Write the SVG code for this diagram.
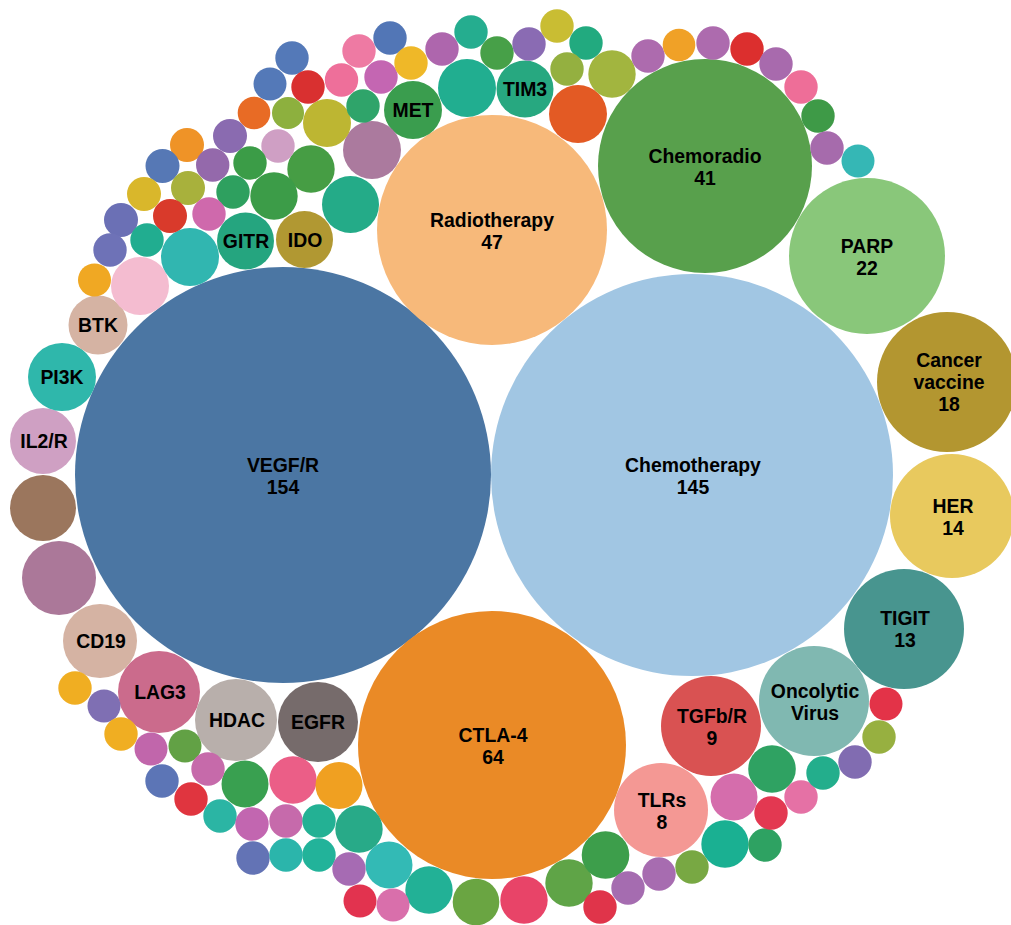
<svg xmlns="http://www.w3.org/2000/svg" width="1011" height="925" viewBox="0 0 1011 925">
<style>
.l{font-family:"Liberation Sans",Arial,sans-serif;font-weight:bold;font-size:19.4px;fill:#000;text-anchor:middle}
</style>
<rect width="1011" height="925" fill="#fff"/>
<g id="vegf"><circle cx="283" cy="475" r="208" fill="#4b76a3"/><text class="l" x="283" y="472">VEGF/R</text><text class="l" x="283" y="494">154</text></g>
<g id="chemotherapy"><circle cx="692" cy="475" r="201" fill="#a1c6e3"/><text class="l" x="693" y="472">Chemotherapy</text><text class="l" x="693" y="494">145</text></g>
<g id="radiotherapy"><circle cx="492" cy="230" r="115" fill="#f7b97a"/><text class="l" x="492" y="227">Radiotherapy</text><text class="l" x="492" y="249">47</text></g>
<g id="chemoradio"><circle cx="705" cy="166" r="107" fill="#58a04c"/><text class="l" x="705" y="163">Chemoradio</text><text class="l" x="705" y="185">41</text></g>
<g id="parp"><circle cx="867" cy="256" r="78" fill="#89c77a"/><text class="l" x="867" y="253">PARP</text><text class="l" x="867" y="275">22</text></g>
<g id="vaccine"><circle cx="947" cy="382" r="70" fill="#b39630"/><text class="l" x="949" y="367">Cancer</text><text class="l" x="949" y="389">vaccine</text><text class="l" x="949" y="411">18</text></g>
<g id="her"><circle cx="952" cy="516" r="62" fill="#e8c95e"/><text class="l" x="953" y="513">HER</text><text class="l" x="953" y="535">14</text></g>
<g id="tigit"><circle cx="904" cy="629" r="60" fill="#48958f"/><text class="l" x="905" y="625">TIGIT</text><text class="l" x="905" y="647">13</text></g>
<g id="oncolytic"><circle cx="814" cy="701" r="55" fill="#80b8b1"/><text class="l" x="815" y="698">Oncolytic</text><text class="l" x="815" y="720">Virus</text></g>
<g id="tgfb"><circle cx="711" cy="726" r="50" fill="#d95252"/><text class="l" x="712" y="723">TGFb/R</text><text class="l" x="712" y="745">9</text></g>
<g id="tlrs"><circle cx="661" cy="810" r="47" fill="#f49894"/><text class="l" x="662" y="807">TLRs</text><text class="l" x="662" y="829">8</text></g>
<g id="ctla4"><circle cx="492" cy="745" r="134" fill="#ea8a26"/><text class="l" x="493" y="742">CTLA-4</text><text class="l" x="493" y="764">64</text></g>
<g id="egfr"><circle cx="318" cy="722" r="40" fill="#766b6b"/><text class="l" x="318" y="729">EGFR</text></g>
<g id="hdac"><circle cx="236" cy="720" r="41" fill="#b8afab"/><text class="l" x="237" y="727">HDAC</text></g>
<g id="lag3"><circle cx="159" cy="692" r="41" fill="#cb6b8c"/><text class="l" x="160" y="699">LAG3</text></g>
<g id="cd19"><circle cx="100" cy="641" r="37" fill="#d5b3a3"/><text class="l" x="101" y="648">CD19</text></g>
<g id="mauve1"><circle cx="59" cy="578" r="37" fill="#ab7899"/></g>
<g id="brown1"><circle cx="43" cy="508" r="33" fill="#9b765d"/></g>
<g id="il2r"><circle cx="43" cy="441" r="33" fill="#cfa0c3"/><text class="l" x="44" y="448">IL2/R</text></g>
<g id="pi3k"><circle cx="62" cy="377" r="34" fill="#2fb7ab"/><text class="l" x="62" y="384">PI3K</text></g>
<g id="btk"><circle cx="98" cy="325" r="29.5" fill="#d5b3a3"/><text class="l" x="98" y="332">BTK</text></g>
<g id="pink1"><circle cx="140" cy="286" r="29" fill="#f4bcd0"/></g>
<g id="gitr"><circle cx="245.5" cy="241" r="28.5" fill="#25a57f"/><text class="l" x="246" y="248">GITR</text></g>
<g id="ido"><circle cx="304.5" cy="239.5" r="28.5" fill="#b19832"/><text class="l" x="305" y="247">IDO</text></g>
<g id="met"><circle cx="413" cy="110" r="29" fill="#3a9d4e"/><text class="l" x="413" y="117">MET</text></g>
<g id="tim3"><circle cx="525" cy="89" r="28.5" fill="#27a880"/><text class="l" x="525" y="96">TIM3</text></g>
<g id="b-med">
<circle cx="190" cy="257" r="29" fill="#31b6b0"/>
<circle cx="350.5" cy="204.5" r="28.5" fill="#24ab88"/>
<circle cx="467" cy="88" r="29" fill="#21ae90"/>
<circle cx="578" cy="114" r="29" fill="#e35a24"/>
<circle cx="372" cy="150" r="29" fill="#ab7a9e"/>
<circle cx="327" cy="123" r="24" fill="#bdb632"/>
<circle cx="311" cy="169" r="23.7" fill="#469d44"/>
<circle cx="274" cy="196" r="23.7" fill="#3c9c48"/>
<circle cx="612" cy="74" r="23.7" fill="#a2b53f"/>
<circle cx="245" cy="784" r="23.5" fill="#39a050"/>
<circle cx="293" cy="780" r="23.7" fill="#eb5e87"/>
<circle cx="339" cy="785.5" r="23.5" fill="#f0a021"/>
<circle cx="359" cy="829" r="23.7" fill="#28aa88"/>
<circle cx="389" cy="865" r="23.5" fill="#33bab5"/>
<circle cx="429" cy="890" r="23.7" fill="#22b196"/>
<circle cx="476" cy="902" r="23.3" fill="#6aa542"/>
<circle cx="524" cy="900" r="23.7" fill="#e84468"/>
<circle cx="569" cy="883" r="23.7" fill="#5fa447"/>
<circle cx="605.5" cy="855" r="23.8" fill="#3d9e4b"/>
<circle cx="725" cy="844" r="23.7" fill="#1ab092"/>
<circle cx="734" cy="797" r="23.5" fill="#d56dac"/>
<circle cx="772" cy="769" r="23.8" fill="#2fa262"/>
</g>
<g id="b-small">
<circle cx="292" cy="58" r="16.7" fill="#5479b8"/>
<circle cx="270" cy="84" r="16.5" fill="#5479b8"/>
<circle cx="308" cy="87" r="16.7" fill="#d93030"/>
<circle cx="341.5" cy="80" r="16.7" fill="#ee6f9a"/>
<circle cx="254" cy="113" r="16.3" fill="#e86b25"/>
<circle cx="288" cy="113" r="16" fill="#8db03e"/>
<circle cx="230" cy="136" r="17" fill="#8a6bb0"/>
<circle cx="278" cy="146" r="16.7" fill="#cf9fc4"/>
<circle cx="187" cy="145" r="17" fill="#ef9327"/>
<circle cx="162.5" cy="166" r="17" fill="#5678b5"/>
<circle cx="212.7" cy="165" r="16.7" fill="#9469ab"/>
<circle cx="250" cy="163" r="16.7" fill="#3b9c47"/>
<circle cx="144" cy="194" r="17" fill="#d9b72b"/>
<circle cx="188" cy="188" r="17" fill="#a8b13c"/>
<circle cx="233" cy="192" r="16.7" fill="#2ea05f"/>
<circle cx="121" cy="220" r="17" fill="#6b70b5"/>
<circle cx="170" cy="216" r="17" fill="#d93a2b"/>
<circle cx="209" cy="214" r="16.7" fill="#cf69ac"/>
<circle cx="110" cy="250" r="16.7" fill="#6e72b7"/>
<circle cx="147" cy="240" r="16.7" fill="#21ad90"/>
<circle cx="94.5" cy="280" r="16.5" fill="#f0a823"/>
<circle cx="359" cy="51" r="16.7" fill="#ee7aa3"/>
<circle cx="390" cy="38" r="16.7" fill="#5276b6"/>
<circle cx="381" cy="77" r="16.7" fill="#c466b2"/>
<circle cx="411" cy="63" r="16.7" fill="#efb828"/>
<circle cx="442" cy="49" r="16.7" fill="#ae66ad"/>
<circle cx="471" cy="32" r="16.7" fill="#25ad8f"/>
<circle cx="497" cy="53" r="16.7" fill="#47a048"/>
<circle cx="529" cy="44" r="16.7" fill="#8a6bb3"/>
<circle cx="557" cy="26" r="16.7" fill="#c9bd33"/>
<circle cx="586" cy="43" r="16.7" fill="#22aa7f"/>
<circle cx="567" cy="69" r="16.7" fill="#94b040"/>
<circle cx="648" cy="56" r="16.7" fill="#ad6bae"/>
<circle cx="363" cy="106" r="16.7" fill="#2fa46a"/>
<circle cx="679" cy="45" r="16.3" fill="#f0a127"/>
<circle cx="713" cy="43" r="16.7" fill="#ad6bae"/>
<circle cx="747" cy="49" r="16.7" fill="#dc2f2e"/>
<circle cx="776" cy="64" r="16.7" fill="#a86aad"/>
<circle cx="801" cy="87" r="16.7" fill="#ee6e98"/>
<circle cx="818" cy="116" r="16.7" fill="#3e9a47"/>
<circle cx="827" cy="148" r="16.7" fill="#a66bac"/>
<circle cx="858" cy="161" r="16.5" fill="#35b7b5"/>
<circle cx="75" cy="688" r="16.7" fill="#f0ae22"/>
<circle cx="104" cy="706" r="16.5" fill="#7f6fb3"/>
<circle cx="121" cy="734" r="16.7" fill="#f0ae22"/>
<circle cx="151" cy="749" r="16.5" fill="#c166ab"/>
<circle cx="185" cy="746" r="16.5" fill="#62a145"/>
<circle cx="162" cy="781" r="16.7" fill="#5c75b6"/>
<circle cx="208" cy="769" r="16.7" fill="#c66aaa"/>
<circle cx="191" cy="799" r="16.7" fill="#e0353f"/>
<circle cx="220" cy="816" r="16.7" fill="#2bb5a4"/>
<circle cx="252" cy="824" r="16.7" fill="#c266b0"/>
<circle cx="286" cy="821" r="16.7" fill="#c66aab"/>
<circle cx="319" cy="821" r="16.7" fill="#23b194"/>
<circle cx="253" cy="858" r="16.7" fill="#6373b5"/>
<circle cx="286" cy="855" r="16.7" fill="#2bb5ab"/>
<circle cx="319" cy="855" r="16.7" fill="#22b39a"/>
<circle cx="349" cy="869" r="16.7" fill="#a66bb3"/>
<circle cx="360" cy="901" r="16.5" fill="#e2334f"/>
<circle cx="393" cy="905" r="16.5" fill="#d96fab"/>
<circle cx="600" cy="907" r="16.7" fill="#e0344a"/>
<circle cx="628" cy="888" r="16.7" fill="#a56cb0"/>
<circle cx="659" cy="874" r="16.7" fill="#a76cb0"/>
<circle cx="692" cy="867" r="16.7" fill="#78a843"/>
<circle cx="765" cy="845" r="16.7" fill="#2ea262"/>
<circle cx="771" cy="813" r="16.7" fill="#e33851"/>
<circle cx="801" cy="797" r="16.7" fill="#e571a5"/>
<circle cx="823" cy="773" r="16.7" fill="#23ae8c"/>
<circle cx="855" cy="762" r="16.7" fill="#816cb1"/>
<circle cx="879" cy="737" r="16.7" fill="#97b040"/>
<circle cx="886" cy="704" r="16.5" fill="#e33348"/>
</g>
</svg>
